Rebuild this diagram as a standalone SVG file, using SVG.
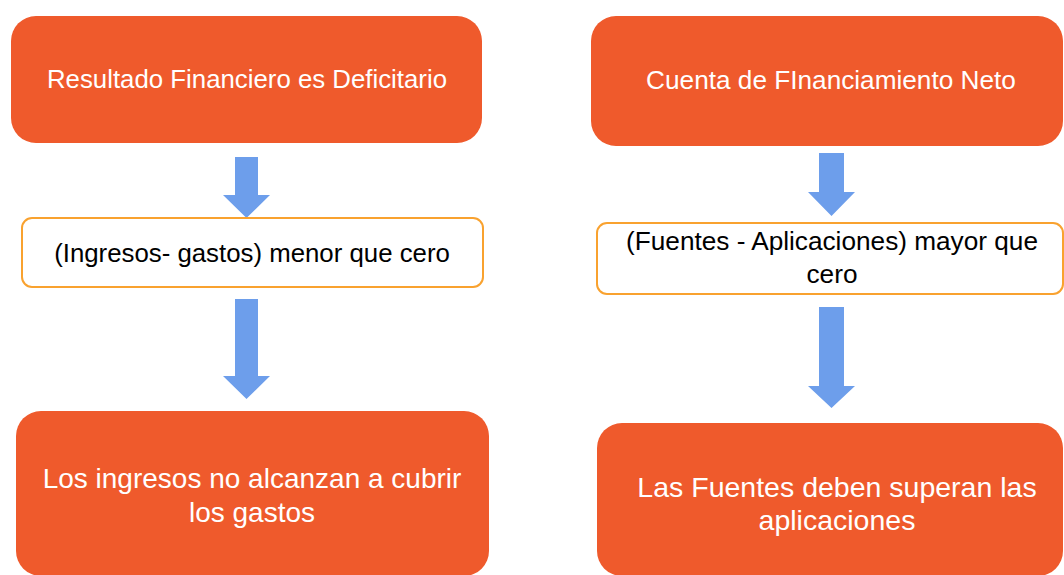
<svg xmlns="http://www.w3.org/2000/svg" width="1064" height="575" viewBox="0 0 1064 575">
<style>
.big{fill:#EF5A2C;}
.small{fill:#FFFFFF;stroke:#F9A22F;stroke-width:2;}
.t{font-family:"Liberation Sans",Arial,sans-serif;text-anchor:middle;}
.w{fill:#FFFFFF;}
.k{fill:#000000;}
.arrow{fill:#6D9EEB;}
</style>
<rect width="1064" height="575" fill="#FFFFFF"/>
<g id="connectors">
<path class="arrow" d="M235,157 H258 V195 H270 L246.5,218 L223,195 H235 Z"/>
<path class="arrow" d="M235,299 H258 V376 H270 L246.5,399 L223,376 H235 Z"/>
<path class="arrow" d="M819,153 H844 V192 H855 L831.5,216 L808,192 H819 Z"/>
<path class="arrow" d="M819,307 H844 V386 H855 L831.5,408 L808,386 H819 Z"/>
</g>
<g id="node-resultado">
<rect class="big" x="11" y="16" width="471" height="127" rx="25"/>
<text class="t w" x="247" y="88" font-size="25.8">Resultado Financiero es Deficitario</text>
</g>
<g id="node-ingresos-gastos">
<rect class="small" x="22" y="218" width="461" height="69" rx="10"/>
<text class="t k" x="252" y="262" font-size="25.8">(Ingresos- gastos) menor que cero</text>
</g>
<g id="node-no-alcanzan">
<rect class="big" x="16" y="411" width="473" height="165" rx="25"/>
<text class="t w" x="252" y="488" font-size="28">Los ingresos no alcanzan a cubrir</text>
<text class="t w" x="252" y="522" font-size="28">los gastos</text>
</g>
<g id="node-cuenta">
<rect class="big" x="591" y="16" width="472" height="130" rx="25"/>
<text class="t w" x="831" y="89" font-size="26.2">Cuenta de FInanciamiento Neto</text>
</g>
<g id="node-fuentes-aplicaciones">
<rect class="small" x="597" y="223" width="466" height="71" rx="10"/>
<text class="t k" x="832" y="250" font-size="26.2">(Fuentes - Aplicaciones) mayor que</text>
<text class="t k" x="832" y="283" font-size="26.2">cero</text>
</g>
<g id="node-fuentes-superan">
<rect class="big" x="597" y="423" width="466" height="153" rx="25"/>
<text class="t w" x="837" y="497" font-size="28.5">Las Fuentes deben superan las</text>
<text class="t w" x="837" y="530" font-size="28.5">aplicaciones</text>
</g>
</svg>
